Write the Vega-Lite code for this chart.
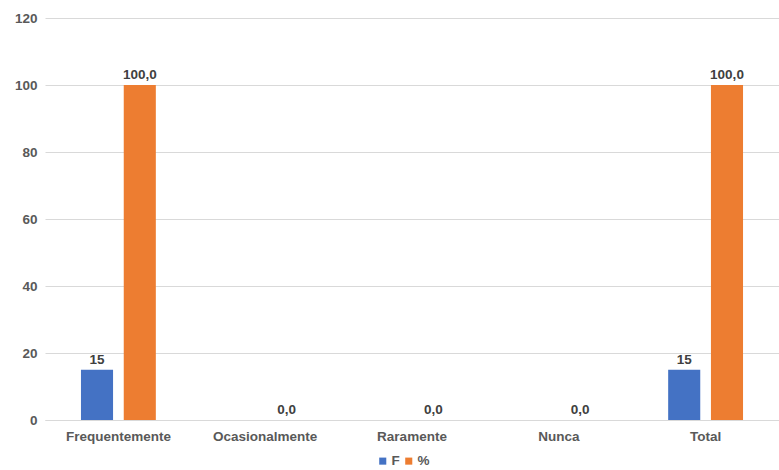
{
  "$schema": "https://vega.github.io/schema/vega-lite/v6.json",
  "autosize": "none",
  "width": 734,
  "height": 402,
  "padding": {"left": 45, "top": 18, "right": 0, "bottom": 50},
  "background": "white",
  "data": {
    "values": [
      {"cat": "Frequentemente", "serie": "F", "valor": 15, "rotulo": "15"},
      {"cat": "Frequentemente", "serie": "%", "valor": 100, "rotulo": "100,0"},
      {"cat": "Ocasionalmente", "serie": "F", "valor": 0, "rotulo": ""},
      {"cat": "Ocasionalmente", "serie": "%", "valor": 0, "rotulo": "0,0"},
      {"cat": "Raramente", "serie": "F", "valor": 0, "rotulo": ""},
      {"cat": "Raramente", "serie": "%", "valor": 0, "rotulo": "0,0"},
      {"cat": "Nunca", "serie": "F", "valor": 0, "rotulo": ""},
      {"cat": "Nunca", "serie": "%", "valor": 0, "rotulo": "0,0"},
      {"cat": "Total", "serie": "F", "valor": 15, "rotulo": "15"},
      {"cat": "Total", "serie": "%", "valor": 100, "rotulo": "100,0"}
    ]
  },
  "encoding": {
    "x": {
      "field": "cat", "type": "nominal", "sort": null,
      "scale": {"paddingInner": 0.49, "paddingOuter": 0.245},
      "axis": {"title": null, "labelAngle": 0, "labelFont": "Liberation Sans", "labelFontWeight": "bold", "labelFontSize": 13.5, "labelColor": "#595959", "ticks": false, "domainColor": "#d9d9d9", "labelPadding": 9}
    },
    "xOffset": {"field": "serie", "type": "nominal", "sort": ["F", "%"], "scale": {"paddingInner": 0.25}},
    "y": {
      "field": "valor", "type": "quantitative",
      "scale": {"domain": [0, 120]},
      "axis": {"title": null, "values": [0, 20, 40, 60, 80, 100, 120], "labelFont": "Liberation Sans", "labelFontWeight": "bold", "labelFontSize": 13.5, "labelColor": "#595959", "ticks": false, "domain": false, "gridColor": "#d9d9d9", "labelPadding": 8}
    }
  },
  "layer": [
    {
      "mark": {"type": "bar"},
      "encoding": {
        "color": {
          "field": "serie", "type": "nominal", "sort": ["F", "%"],
          "scale": {"domain": ["F", "%"], "range": ["#4472C4", "#ED7D31"]},
          "legend": {"title": null, "orient": "none", "legendX": 331, "legendY": 436, "direction": "horizontal", "symbolType": "square", "symbolSize": 50, "labelFont": "Liberation Sans", "labelFontWeight": "bold", "labelFontSize": 13.5, "labelColor": "#595959", "columnPadding": 2, "labelOffset": 2, "symbolOffset": 0}
        }
      }
    },
    {
      "mark": {"type": "text", "dy": -10, "font": "Liberation Sans", "fontWeight": "bold", "fontSize": 13.5, "color": "#404040"},
      "encoding": {"text": {"field": "rotulo"}}
    }
  ],
  "config": {"view": {"stroke": null}}
}
